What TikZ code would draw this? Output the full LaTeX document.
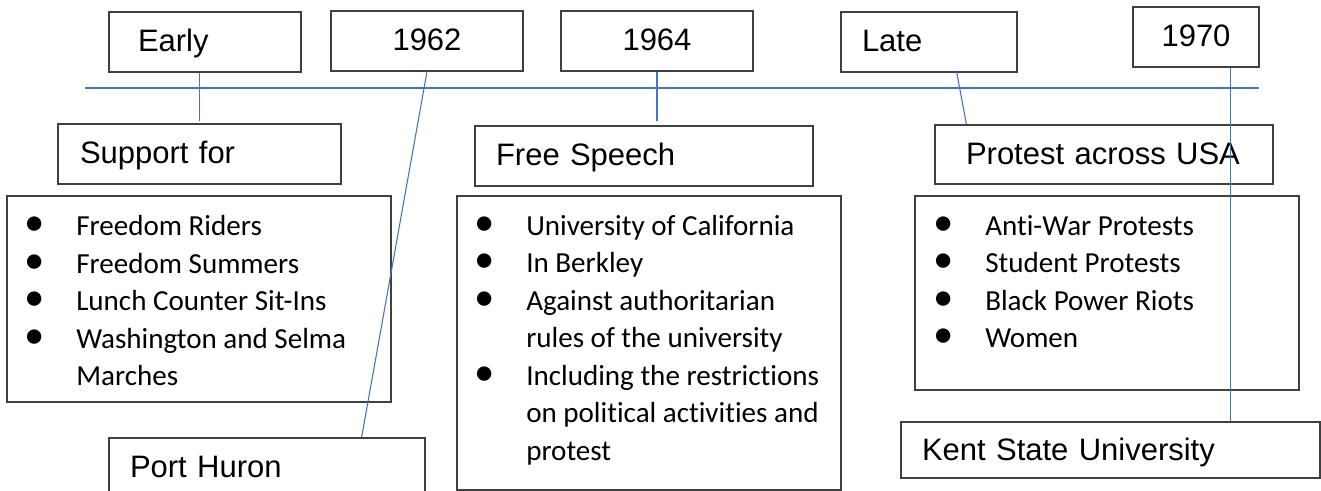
\documentclass[tikz,border=0pt]{standalone}
\usepackage{fontspec}
\setmainfont{Liberation Sans}
\newfontfamily\calibri[Ligatures=NoCommon]{Carlito}
\usepackage{graphicx}
\usetikzlibrary{calc}
\definecolor{boxgray}{HTML}{404040}
\definecolor{lineblue}{HTML}{4472C4}
\newcommand{\bul}{\makebox[39pt][l]{\scalebox{1.4}{•}}}
\begin{document}
\begin{tikzpicture}[x=0.75pt,y=-0.75pt,
  lbl/.style={draw=boxgray, line width=0.9pt, rectangle, inner ysep=0pt,
    font=\fontsize{23.25}{28}\selectfont, text height=19pt, text depth=4pt},
  listbox/.style={draw=boxgray, line width=0.9pt, rectangle, inner sep=0pt},
  listtext/.style={anchor=base west, inner sep=0pt, font=\calibri\fontsize{21.8}{28.1}\selectfont},
  conn/.style={draw=lineblue, line width=0.8pt}]
\useasboundingbox (0,0) rectangle (1321,491);

% top labels
\node[lbl, minimum height=45pt, inner xsep=21.75pt, text width=100.5pt, align=left] (early) at (205,42) {Early};
\node[lbl, minimum height=45pt, inner xsep=10pt, text width=124pt, align=center] (y1962) at (427,41) {1962};
\node[lbl, minimum height=45pt, inner xsep=10pt, text width=124pt, align=center] (y1964) at (657,41) {1964};
\node[lbl, minimum height=45pt, inner xsep=15.75pt, text width=100.5pt, align=left] (late) at (929,42) {Late};
\node[lbl, minimum height=45pt, inner xsep=5pt, text width=84.5pt, align=center] (y1970) at (1196,37) {1970};

% second row labels
\node[lbl, minimum height=45pt, inner xsep=16.5pt, text width=179.25pt, align=left] (support) at (199.5,154) {Support for};
\node[lbl, minimum height=45pt, inner xsep=15.75pt, text width=222pt, align=left] (fs) at (644,156) {Free Speech};
\node[lbl, minimum height=44.25pt, inner xsep=23.25pt, text width=207pt, align=left] (pr) at (1104,154.5) {Protest across USA};

% bottom labels
\node[lbl, minimum height=45pt, inner xsep=15.75pt, text width=205.5pt, align=left] (ph) at (267,468) {Port Huron};
\node[lbl, minimum height=42pt, inner xsep=15.75pt, text width=282.75pt, align=left] (kent) at (1110.5,450) {Kent State University};

% list boxes
\node[listbox, minimum width=288pt, minimum height=154.5pt] (lb1) at (199,299) {};
\node[listtext] (lt1) at (24,236) {\begin{tabular}[t]{@{}l@{}l@{}}
\bul & Freedom Riders\\
\bul & Freedom Summers\\
\bul & Lunch Counter Sit-Ins\\
\bul & Washington and Selma\\
 & Marches
\end{tabular}};

\node[listbox, minimum width=288pt, minimum height=220.5pt] (lb2) at (649,343) {};
\node[listtext] (lt2) at (474,235.5) {\begin{tabular}[t]{@{}l@{}l@{}}
\bul & University of California\\
\bul & In Berkley\\
\bul & Against authoritarian\\
 & rules of the university\\
\bul & Including the restrictions\\
 & on political activities and\\
 & protest
\end{tabular}};

\node[listbox, minimum width=288pt, minimum height=145.5pt] (lb3) at (1107,293) {};
\node[listtext] (lt3) at (933,235.5) {\begin{tabular}[t]{@{}l@{}l@{}}
\bul & Anti-War Protests\\
\bul & Student Protests\\
\bul & Black Power Riots\\
\bul & Women
\end{tabular}};

% timeline and connectors
\coordinate (tl0) at (85,88);
\coordinate (tl1) at (1259,88);
\draw[conn] (tl0) -- (tl1);
\draw[conn] (support.north |- early.south) -- ($(support.north)+(0,-2)$);
\draw[conn] (y1962.south) -- ($(ph.north east)+(-64,0)$);
\draw[conn] (y1964.south) -- ($(y1964.south |- fs.north)+(0,-4)$);
\draw[conn] ($(late.south west)+(116,-2)$) -- ($(pr.north west)+(32,0)$);
\draw[conn] ($(y1970.south west)+(98,0)$) coordinate (k0) -- (k0 |- kent.north);
\end{tikzpicture}
\end{document}
